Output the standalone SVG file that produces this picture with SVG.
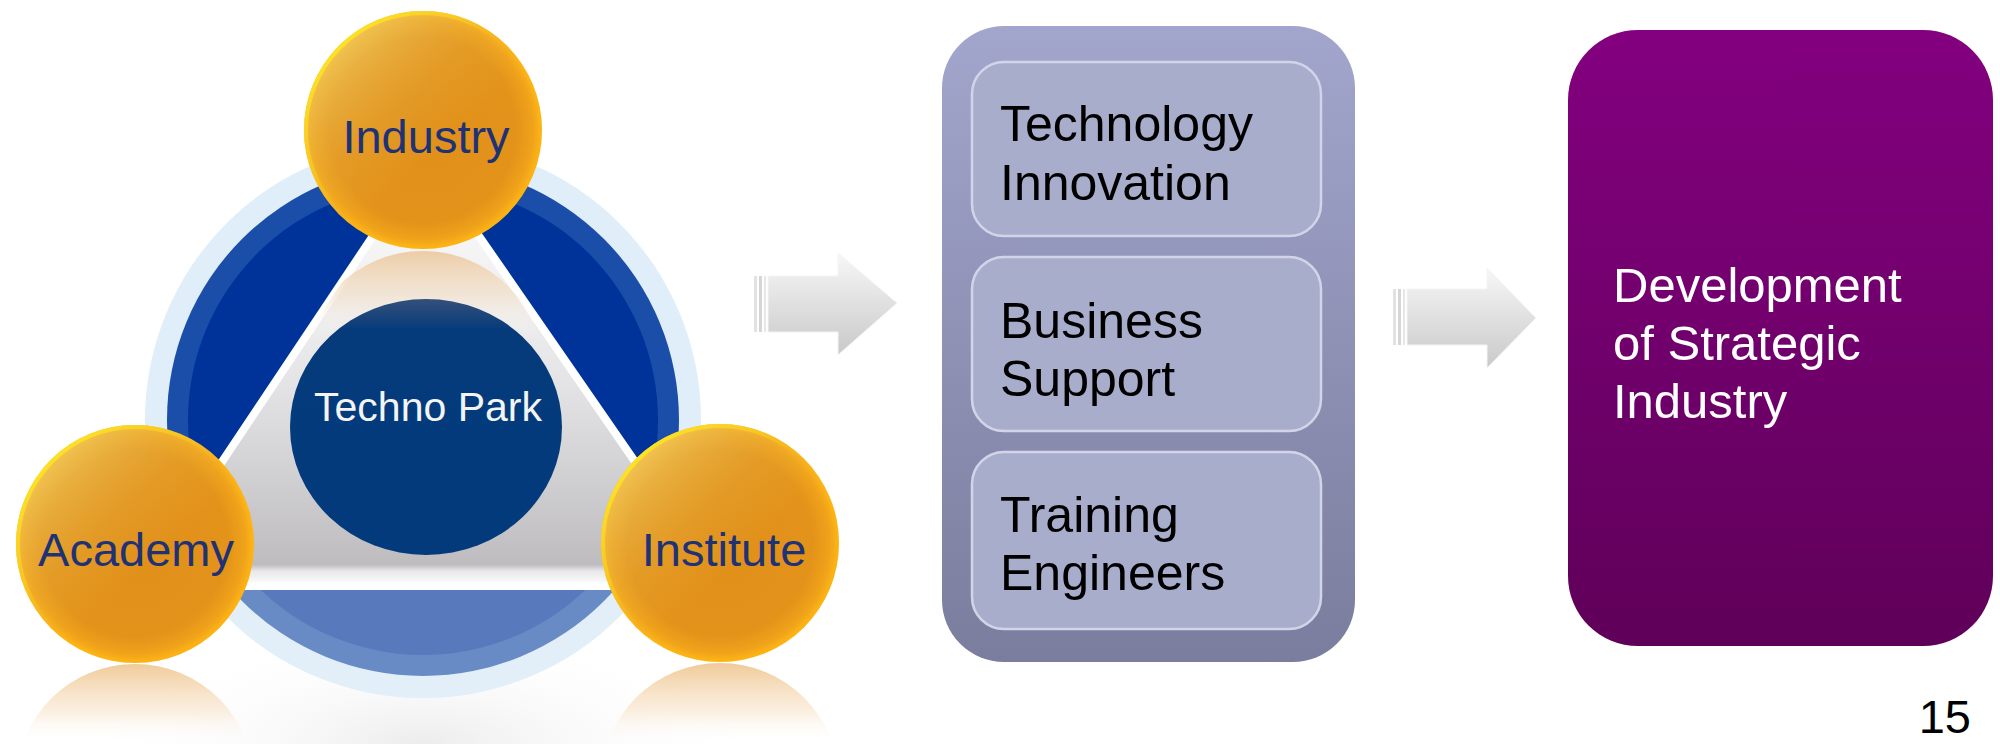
<svg xmlns="http://www.w3.org/2000/svg" width="2000" height="744" viewBox="0 0 2000 744">
<defs>
<style>
.lbl{font-family:"Liberation Sans",Arial,sans-serif;}
.orbT{font-size:47px;fill:#1e3275;text-anchor:middle;}
.boxT{font-size:50px;fill:#000;}
.purT{font-size:49px;fill:#fff;}
.orb{fill:url(#orb);}
.orbHi{fill:url(#orbHi);}
.orbRim{fill:none;stroke:url(#rim);stroke-width:4;}
.inner{fill:#a9adcc;stroke:#d2d5e8;stroke-width:2.5;}
.arrow{fill:url(#arrG);stroke:#f4f4f4;stroke-width:1;}
</style>
<radialGradient id="orb" cx="0.5" cy="0.5" r="0.5">
<stop offset="0" stop-color="#e0901a"/>
<stop offset="0.78" stop-color="#e3931a"/>
<stop offset="0.92" stop-color="#efa21a"/>
<stop offset="1" stop-color="#fdb515"/>
</radialGradient>
<linearGradient id="orbHi" x1="0.1" y1="0.1" x2="0.75" y2="0.8">
<stop offset="0" stop-color="#f0cf68" stop-opacity="0.85"/>
<stop offset="0.45" stop-color="#e6ae40" stop-opacity="0.3"/>
<stop offset="0.7" stop-color="#e6ae40" stop-opacity="0"/>
</linearGradient>
<linearGradient id="rim" x1="0" y1="0" x2="1" y2="1">
<stop offset="0" stop-color="#fff41a" stop-opacity="1"/>
<stop offset="0.35" stop-color="#ffd81a" stop-opacity="0.5"/>
<stop offset="0.5" stop-color="#ffc81a" stop-opacity="0"/>
<stop offset="0.8" stop-color="#ffb010" stop-opacity="0.3"/>
<stop offset="1" stop-color="#ffb810" stop-opacity="0.8"/>
</linearGradient>
<linearGradient id="reflA" gradientUnits="userSpaceOnUse" x1="0" y1="662" x2="0" y2="744">
<stop offset="0" stop-color="#eec38a" stop-opacity="0.9"/>
<stop offset="0.6" stop-color="#f7e2c6" stop-opacity="0.55"/>
<stop offset="1" stop-color="#ffffff" stop-opacity="0"/>
</linearGradient>
<linearGradient id="reflI" gradientUnits="userSpaceOnUse" x1="0" y1="250" x2="0" y2="340">
<stop offset="0" stop-color="#ecc79c" stop-opacity="0.9"/>
<stop offset="0.5" stop-color="#f2dcc0" stop-opacity="0.55"/>
<stop offset="1" stop-color="#ffffff" stop-opacity="0"/>
</linearGradient>
<linearGradient id="triG" gradientUnits="userSpaceOnUse" x1="0" y1="158" x2="0" y2="586">
<stop offset="0" stop-color="#ffffff"/>
<stop offset="0.5" stop-color="#e6e6e8"/>
<stop offset="0.95" stop-color="#bebcbf"/>
<stop offset="0.965" stop-color="#e8e8ea"/>
<stop offset="1" stop-color="#ffffff"/>
</linearGradient>
<linearGradient id="tpG" x1="0" y1="0" x2="0" y2="1">
<stop offset="0" stop-color="#34507a"/>
<stop offset="0.12" stop-color="#053b7b"/>
<stop offset="1" stop-color="#023a7c"/>
</linearGradient>
<radialGradient id="floor" cx="0.5" cy="0.5" r="0.5">
<stop offset="0" stop-color="#ececec"/>
<stop offset="1" stop-color="#ffffff" stop-opacity="0"/>
</radialGradient>
<linearGradient id="arrG" x1="0" y1="0" x2="0" y2="1">
<stop offset="0" stop-color="#f7f7f7"/>
<stop offset="1" stop-color="#c9c9c9"/>
</linearGradient>
<linearGradient id="panelG" x1="0" y1="0" x2="0" y2="1">
<stop offset="0" stop-color="#a2a6cc"/>
<stop offset="1" stop-color="#7a7d9d"/>
</linearGradient>
<linearGradient id="purG" x1="0" y1="0" x2="0" y2="1">
<stop offset="0" stop-color="#83007f"/>
<stop offset="1" stop-color="#5f0059"/>
</linearGradient>
<clipPath id="ringClip"><circle cx="423" cy="420" r="278"/></clipPath>
<clipPath id="triClip"><polygon points="425,158 139,586 721,586"/></clipPath>
</defs>

<rect width="2000" height="744" fill="#ffffff"/>

<g id="techno-park-diagram">
<ellipse cx="423" cy="744" rx="330" ry="120" fill="url(#floor)"/>
<circle cx="423" cy="420" r="278" fill="#dfeef9"/>
<circle cx="423" cy="420" r="256" fill="#1a4ea8"/>
<circle cx="423" cy="420" r="235" fill="#00339a"/>
<rect x="140" y="586" width="570" height="120" fill="#e8eef8" opacity="0.38" clip-path="url(#ringClip)"/>
<polygon points="425,158 139,586 721,586" fill="url(#triG)" stroke="#ffffff" stroke-width="8" stroke-linejoin="round"/>
<circle cx="423" cy="372" r="121" fill="url(#reflI)" clip-path="url(#triClip)"/>
</g>

<g id="node-techno-park">
<ellipse cx="426" cy="427" rx="136" ry="128" fill="url(#tpG)"/>
<text class="lbl" x="428" y="421" font-size="41" fill="#f4f4f4" text-anchor="middle">Techno Park</text>
</g>

<g id="node-industry">
<circle class="orb" cx="423" cy="130" r="119"/>
<circle class="orbHi" cx="423" cy="130" r="119"/>
<circle class="orbRim" cx="423" cy="130" r="117"/>
<text class="lbl orbT" x="426" y="153">Industry</text>
</g>

<g id="node-academy">
<circle class="orb" cx="135" cy="544" r="119"/>
<circle class="orbHi" cx="135" cy="544" r="119"/>
<circle class="orbRim" cx="135" cy="544" r="117"/>
<text class="lbl orbT" x="136" y="566">Academy</text>
<circle cx="135" cy="783" r="119" fill="url(#reflA)"/>
</g>

<g id="node-institute">
<circle class="orb" cx="720" cy="543" r="119"/>
<circle class="orbHi" cx="720" cy="543" r="119"/>
<circle class="orbRim" cx="720" cy="543" r="117"/>
<text class="lbl orbT" x="724" y="566">Institute</text>
<circle cx="720" cy="782" r="119" fill="url(#reflA)"/>
</g>

<g id="connectors">
<g id="arrow-1">
<rect x="754" y="276" width="3" height="56" fill="#e2e2e2"/>
<rect x="759" y="276" width="3" height="56" fill="#d6d6d6"/>
<rect x="764" y="276" width="2" height="56" fill="#e6e6e6"/>
<path class="arrow" d="M768,276 H838 V253 L897,303 L838,355 V332 H768 Z"/>
</g>
<g id="arrow-2">
<rect x="1393" y="289" width="3" height="56" fill="#e2e2e2"/>
<rect x="1398" y="289" width="3" height="56" fill="#d6d6d6"/>
<rect x="1403" y="289" width="2" height="56" fill="#e6e6e6"/>
<path class="arrow" d="M1407,289 H1487 V268 L1536,318 L1487,368 V345 H1407 Z"/>
</g>
</g>

<g id="node-activities">
<rect x="942" y="26" width="413" height="636" rx="62" fill="url(#panelG)"/>
<g id="node-technology-innovation">
<rect class="inner" x="972" y="62" width="349" height="174" rx="32"/>
<text class="lbl boxT" x="1000" y="141">Technology</text>
<text class="lbl boxT" x="1000" y="200">Innovation</text>
</g>
<g id="node-business-support">
<rect class="inner" x="972" y="257" width="349" height="174" rx="32"/>
<text class="lbl boxT" x="1000" y="338">Business</text>
<text class="lbl boxT" x="1000" y="396">Support</text>
</g>
<g id="node-training-engineers">
<rect class="inner" x="972" y="452" width="349" height="177" rx="32"/>
<text class="lbl boxT" x="1000" y="532">Training</text>
<text class="lbl boxT" x="1000" y="590">Engineers</text>
</g>
</g>

<g id="node-strategic-industry">
<rect x="1568" y="30" width="425" height="616" rx="70" fill="url(#purG)"/>
<text class="lbl purT" x="1613" y="302">Development</text>
<text class="lbl purT" x="1613" y="360">of Strategic</text>
<text class="lbl purT" x="1613" y="418">Industry</text>
</g>

<text id="page-number" class="lbl" x="1971" y="733" font-size="47" fill="#000" text-anchor="end">15</text>
</svg>
